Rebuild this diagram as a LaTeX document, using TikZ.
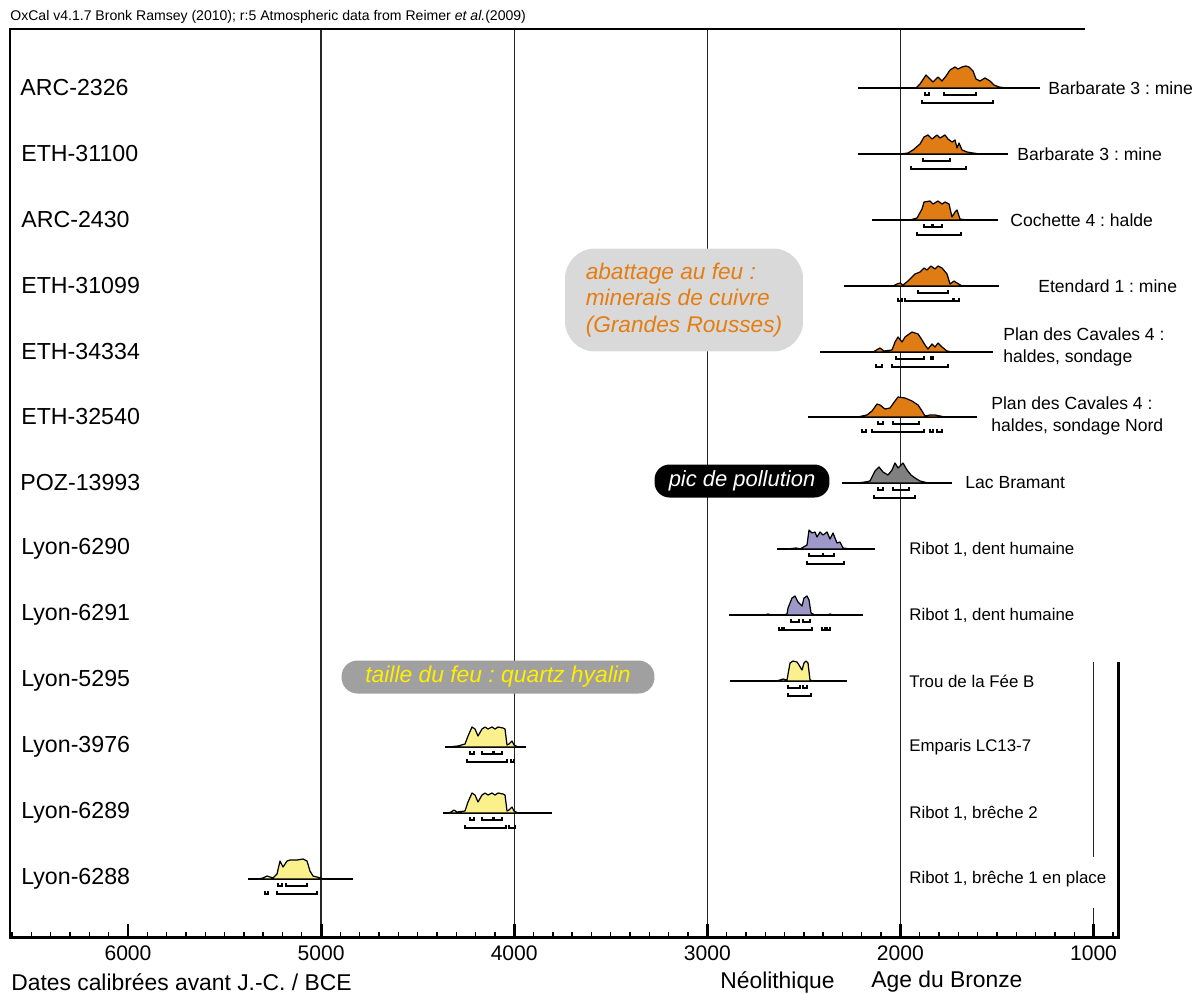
\documentclass[tikz,border=0pt]{standalone}
\usepackage{fontspec}
\setmainfont{Liberation Sans}
\usepackage{tikz}
\frenchspacing
\definecolor{pdfOrange}{RGB}{224,124,20}
\definecolor{pdfGrey}{RGB}{128,128,128}
\definecolor{pdfPurple}{RGB}{156,152,200}
\definecolor{pdfYellow}{RGB}{250,240,140}
\definecolor{boxLight}{RGB}{217,217,217}
\definecolor{boxDark}{RGB}{160,160,160}
\definecolor{txtOrange}{RGB}{228,125,18}
\definecolor{txtYellow}{RGB}{255,238,0}

\begin{document}
\begin{tikzpicture}[x=0.02cm, y=-0.02cm,
    frameln/.style={line width=1.7pt},
    gridln/.style={line width=0.7pt, black!85},
    tickmin/.style={line width=0.8pt},
    tickmaj/.style={line width=1.6pt},
    densline/.style={line width=0.9pt},
    dens/.style={draw=black, line width=0.7pt, line join=round},
    rangebar/.style={line width=1.4pt},
    rowlbl/.style={anchor=west, inner sep=0, font=\fontsize{13.2}{15}\selectfont},
    site/.style={anchor=west, inner sep=0, align=left, font=\fontsize{10}{13}\selectfont},
    sitesm/.style={anchor=west, inner sep=0, font=\fontsize{9.6}{12}\selectfont},
    axnum/.style={inner sep=0, font=\fontsize{12}{14}\selectfont},
    axtitle/.style={anchor=west, inner sep=0, font=\fontsize{13}{15}\selectfont}]
    \useasboundingbox (0,0) rectangle (1202,994);

    % header
    \node[anchor=west, inner sep=0, font=\fontsize{8}{10}\selectfont] (oxcal) at (10,17)
        {OxCal v4.1.7 Bronk Ramsey (2010); r:5 Atmospheric data from Reimer \textit{et al.}(2009)};

    % grid, frame and axis
    \foreach \yr in {2000,3000,4000,5000}
        \draw[gridln] ({1093.5-0.1931*(\yr-1000)},29) -- ++(0,908);
    \draw[gridln] (1093.5,662) -- (1093.5,857);
    \draw[gridln] (1093.5,908) -- (1093.5,937);
    \foreach \yr in {900,1000,...,6600}
        \draw[tickmin] ({1093.5-0.1931*(\yr-1000)},937) -- ++(0,-5);
    \foreach \yr in {1000,2000,...,6000}{
        \draw[tickmaj] ({1093.5-0.1931*(\yr-1000)},937) -- ++(0,-13);
        \node[axnum] (n\yr) at ({1093.5-0.1931*(\yr-1000)},953) {\yr};
    }
    \draw[frameln] (1085,29) -- (10,29) -- (10,937) -- (1118,937) -- (1118,662);

    \node[axtitle] (xtitle) at (11,982) {Dates calibrées avant J.-C. / BCE};
    \node[axtitle] (neo) at (720,982) {Néolithique};
    \node[axtitle] (bronze) at (871,982) {Age du Bronze};

    % sample names
    \node[rowlbl] (s1) at (20,88) {ARC-2326};
    \node[rowlbl] (s2) at (21,154) {ETH-31100};
    \node[rowlbl] (s3) at (21,220) {ARC-2430};
    \node[rowlbl] (s4) at (21,286) {ETH-31099};
    \node[rowlbl] (s5) at (21,352) {ETH-34334};
    \node[rowlbl] (s6) at (21,417) {ETH-32540};
    \node[rowlbl] (s7) at (20,483) {POZ-13993};
    \node[rowlbl] (s8) at (21,549) {Lyon-6290};
    \node[rowlbl] (s9) at (21,615) {Lyon-6291};
    \node[rowlbl] (s10) at (21,681) {Lyon-5295};
    \node[rowlbl] (s11) at (21,747) {Lyon-3976};
    \node[rowlbl] (s12) at (21,813) {Lyon-6289};
    \node[rowlbl] (s13) at (21,879) {Lyon-6288};

    % ARC-2326
    \begin{scope}[shift={(0,88)}]
        \draw[densline] (858,0) -- (1040,0);
        \filldraw[dens, fill=pdfOrange] plot coordinates {(916,0) (920,-4) (926,-13) (930,-9) (933,-6) (938,-11) (942,-7) (946,-12) (950,-18) (955,-21) (958,-19) (962,-21) (966,-22) (969,-21) (973,-17) (976,-9) (980,-7) (985,-10) (990,-7) (994,-3) (999,-1) (1006,0)} -- cycle;
        \foreach \a/\b in {925/929,944/976} \draw[rangebar] (\a,4) |- (\b,7) -- (\b,4);
        \foreach \a/\b in {922/993} \draw[rangebar] (\a,12) |- (\b,15) -- (\b,12);
    \end{scope}
    \node[site] (d1) at (1048,88) {Barbarate 3 : mine};

    % ETH-31100
    \begin{scope}[shift={(0,154)}]
        \draw[densline] (858,0) -- (1008,0);
        \filldraw[dens, fill=pdfOrange] plot coordinates {(900,0) (908,-1) (913,-4) (920,-10) (924,-17) (928,-19) (932,-15) (937,-19) (940,-16) (945,-19) (948,-15) (952,-12) (955,-14) (957,-6) (959,-11) (962,-4) (967,-2) (973,-1) (980,0)} -- cycle;
        \foreach \a/\b in {923/950} \draw[rangebar] (\a,4) |- (\b,7) -- (\b,4);
        \foreach \a/\b in {911/966} \draw[rangebar] (\a,12) |- (\b,15) -- (\b,12);
    \end{scope}
    \node[site] (d2) at (1017,154) {Barbarate 3 : mine};

    % ARC-2430
    \begin{scope}[shift={(0,220)}]
        \draw[densline] (872,0) -- (998,0);
        \filldraw[dens, fill=pdfOrange] plot coordinates {(910,0) (917,-2) (922,-11) (924,-18) (930,-19) (933,-16) (938,-19) (942,-16) (945,-18) (949,-16) (952,-3) (955,-8) (957,-10) (960,-1) (966,0)} -- cycle;
        \foreach \a/\b in {924/932,933/942} \draw[rangebar] (\a,4) |- (\b,7) -- (\b,4);
        \foreach \a/\b in {917/961} \draw[rangebar] (\a,12) |- (\b,15) -- (\b,12);
    \end{scope}
    \node[site] (d3) at (1010,220) {Cochette 4 : halde};

    % ETH-31099
    \begin{scope}[shift={(0,286)}]
        \draw[densline] (844,0) -- (999,0);
        \filldraw[dens, fill=pdfOrange] plot coordinates {(893,0) (897,-2) (900,-3) (903,-1) (908,-5) (915,-12) (920,-14) (924,-18) (927,-16) (931,-20) (935,-17) (938,-20) (942,-18) (947,-12) (950,-2) (954,-5) (957,-3) (962,0)} -- cycle;
        \foreach \a/\b in {918/948} \draw[rangebar] (\a,4) |- (\b,7) -- (\b,4);
        \foreach \a/\b in {898/902,905/953,954/959} \draw[rangebar] (\a,12) |- (\b,15) -- (\b,12);
    \end{scope}
    \node[site] (d4) at (1038,286) {Etendard 1 : mine};

    % ETH-34334
    \begin{scope}[shift={(0,352)}]
        \draw[densline] (820,0) -- (993,0);
        \filldraw[dens, fill=pdfOrange] plot coordinates {(873,0) (880,-4) (884,-1) (892,-2) (895,-10) (898,-15) (902,-10) (905,-15) (912,-20) (918,-18) (922,-12) (925,-7) (928,-3) (932,-8) (935,-5) (938,-9) (942,-5) (947,-1) (952,0)} -- cycle;
        \foreach \a/\b in {896/924,931/933} \draw[rangebar] (\a,4) |- (\b,7) -- (\b,4);
        \foreach \a/\b in {876/882,892/948} \draw[rangebar] (\a,12) |- (\b,15) -- (\b,12);
    \end{scope}
    \node[site] (d5) at (1003,347) {Plan des Cavales 4 :\\haldes, sondage};

    % ETH-32540
    \begin{scope}[shift={(0,417)}]
        \draw[densline] (808,0) -- (977,0);
        \filldraw[dens, fill=pdfOrange] plot coordinates {(858,0) (862,-1) (867,-2) (872,-6) (877,-13) (880,-12) (885,-8) (890,-9) (895,-16) (898,-20) (905,-19) (912,-16) (918,-12) (922,-6) (925,-1) (930,-2) (935,-2) (940,-1) (945,0)} -- cycle;
        \foreach \a/\b in {878/883,893/919} \draw[rangebar] (\a,4) |- (\b,7) -- (\b,4);
        \foreach \a/\b in {862/866,872/924,930/933,937/942} \draw[rangebar] (\a,12) |- (\b,15) -- (\b,12);
    \end{scope}
    \node[site] (d6) at (991,416) {Plan des Cavales 4 :\\haldes, sondage Nord};

    % POZ-13993
    \begin{scope}[shift={(0,483)}]
        \draw[densline] (842,0) -- (952,0);
        \filldraw[dens, fill=pdfGrey] plot coordinates {(858,0) (865,-1) (870,-2) (875,-12) (879,-16) (883,-11) (888,-8) (892,-13) (895,-20) (898,-15) (903,-20) (907,-13) (911,-8) (915,-5) (920,-2) (928,0)} -- cycle;
        \foreach \a/\b in {878/883,893/909} \draw[rangebar] (\a,4) |- (\b,7) -- (\b,4);
        \foreach \a/\b in {874/915} \draw[rangebar] (\a,12) |- (\b,15) -- (\b,12);
    \end{scope}
    \node[site] (d7) at (965,483) {Lac Bramant};

    % Lyon-6290
    \begin{scope}[shift={(0,549)}]
        \draw[densline] (777,0) -- (875,0);
        \filldraw[dens, fill=pdfPurple] plot coordinates {(788,0) (796,-1) (800,0) (807,-4) (809,-19) (812,-16) (815,-17) (817,-12) (820,-17) (823,-14) (827,-17) (830,-10) (833,-16) (837,-6) (840,-7) (843,-1) (850,0)} -- cycle;
        \foreach \a/\b in {809/823,823/834} \draw[rangebar] (\a,4) |- (\b,7) -- (\b,4);
        \foreach \a/\b in {807/844} \draw[rangebar] (\a,12) |- (\b,15) -- (\b,12);
    \end{scope}
    \node[sitesm] (d8) at (909,549) {Ribot 1, dent humaine};

    % Lyon-6291
    \begin{scope}[shift={(0,615)}]
        \draw[densline] (729,0) -- (863,0);
        \filldraw[dens, fill=pdfPurple] plot coordinates {(765,0) (768,-1) (772,0) (783,0) (787,-1) (788,-7) (792,-17) (795,-19) (798,-13) (802,-9) (804,-17) (807,-19) (809,-15) (811,-2) (815,0) (828,0) (830,-1) (833,0)} -- cycle;
        \foreach \a/\b in {791/799,803/810} \draw[rangebar] (\a,4) |- (\b,7) -- (\b,4);
        \foreach \a/\b in {779/784,782/812,822/825,827/830} \draw[rangebar] (\a,12) |- (\b,15) -- (\b,12);
    \end{scope}
    \node[sitesm] (d9) at (909,615) {Ribot 1, dent humaine};

    % Lyon-5295
    \begin{scope}[shift={(0,681)}]
        \draw[densline] (730,0) -- (847,0);
        \filldraw[dens, fill=pdfYellow] plot coordinates {(776,0) (780,-1) (783,-2) (787,-1) (790,-18) (793,-20) (797,-19) (799,-16) (802,-11) (804,-18) (806,-20) (808,-18) (810,-1) (814,0)} -- cycle;
        \foreach \a/\b in {788/800,803/807} \draw[rangebar] (\a,4) |- (\b,7) -- (\b,4);
        \foreach \a/\b in {788/811} \draw[rangebar] (\a,12) |- (\b,15) -- (\b,12);
    \end{scope}
    \node[sitesm] (d10) at (909,681) {Trou de la Fée B};

    % Lyon-3976
    \begin{scope}[shift={(0,747)}]
        \draw[densline] (445,0) -- (526,0);
        \filldraw[dens, fill=pdfYellow] plot coordinates {(448,0) (458,-1) (465,-3) (468,-11) (472,-20) (475,-18) (478,-11) (482,-18) (485,-20) (488,-18) (492,-20) (495,-18) (498,-20) (503,-19) (505,-18) (507,-2) (509,-3) (512,-6) (514,-2) (518,0)} -- cycle;
        \foreach \a/\b in {470/474,482/493,494/502} \draw[rangebar] (\a,4) |- (\b,7) -- (\b,4);
        \foreach \a/\b in {467/507,511/514} \draw[rangebar] (\a,12) |- (\b,15) -- (\b,12);
    \end{scope}
    \node[sitesm] (d11) at (909,747) {Emparis LC13-7};

    % Lyon-6289
    \begin{scope}[shift={(0,813)}]
        \draw[densline] (443,0) -- (552,0);
        \filldraw[dens, fill=pdfYellow] plot coordinates {(448,0) (451,-1) (454,-3) (457,-1) (465,-2) (468,-11) (472,-20) (475,-18) (478,-11) (482,-18) (485,-20) (488,-18) (492,-20) (495,-18) (498,-20) (503,-19) (505,-18) (507,-2) (509,-3) (512,-6) (514,-2) (518,0)} -- cycle;
        \foreach \a/\b in {470/474,482/493,494/502} \draw[rangebar] (\a,4) |- (\b,7) -- (\b,4);
        \foreach \a/\b in {465/506,509/515} \draw[rangebar] (\a,12) |- (\b,15) -- (\b,12);
    \end{scope}
    \node[sitesm] (d12) at (909,813) {Ribot 1, brêche 2};

    % Lyon-6288
    \begin{scope}[shift={(0,879)}]
        \draw[densline] (248,0) -- (353,0);
        \filldraw[dens, fill=pdfYellow] plot coordinates {(258,0) (263,-1) (267,-3) (270,-2) (273,-1) (277,-5) (280,-18) (283,-12) (287,-18) (290,-19) (297,-19) (303,-20) (307,-18) (310,-8) (313,-3) (317,-2) (320,-1) (324,0)} -- cycle;
        \foreach \a/\b in {278/282,286/307} \draw[rangebar] (\a,4) |- (\b,7) -- (\b,4);
        \foreach \a/\b in {265/268,277/317} \draw[rangebar] (\a,12) |- (\b,15) -- (\b,12);
    \end{scope}
    \node[sitesm] (d13) at (909,879) {Ribot 1, brêche 1 en place};

    % notes
    \node[fill=boxLight, rounded corners=0.6cm, minimum width=4.76cm, minimum height=2.06cm,
          align=left, text=txtOrange, font=\fontsize{12.9}{15.1}\selectfont\itshape] (feu) at (684,300)
        {abattage au feu :\\minerais de cuivre\\(Grandes Rousses)};
    \node[fill=black, rounded corners=0.3cm, minimum width=3.5cm, minimum height=0.66cm,
          text=white, font=\fontsize{12.5}{14}\selectfont\itshape] (pollution) at (742,481) {pic de pollution};
    \node[fill=boxDark, rounded corners=0.32cm, minimum width=6.26cm, minimum height=0.64cm,
          text=txtYellow, font=\fontsize{13}{15}\selectfont\itshape] (quartz) at (498,677) {taille du feu : quartz hyalin};
\end{tikzpicture}
\end{document}
